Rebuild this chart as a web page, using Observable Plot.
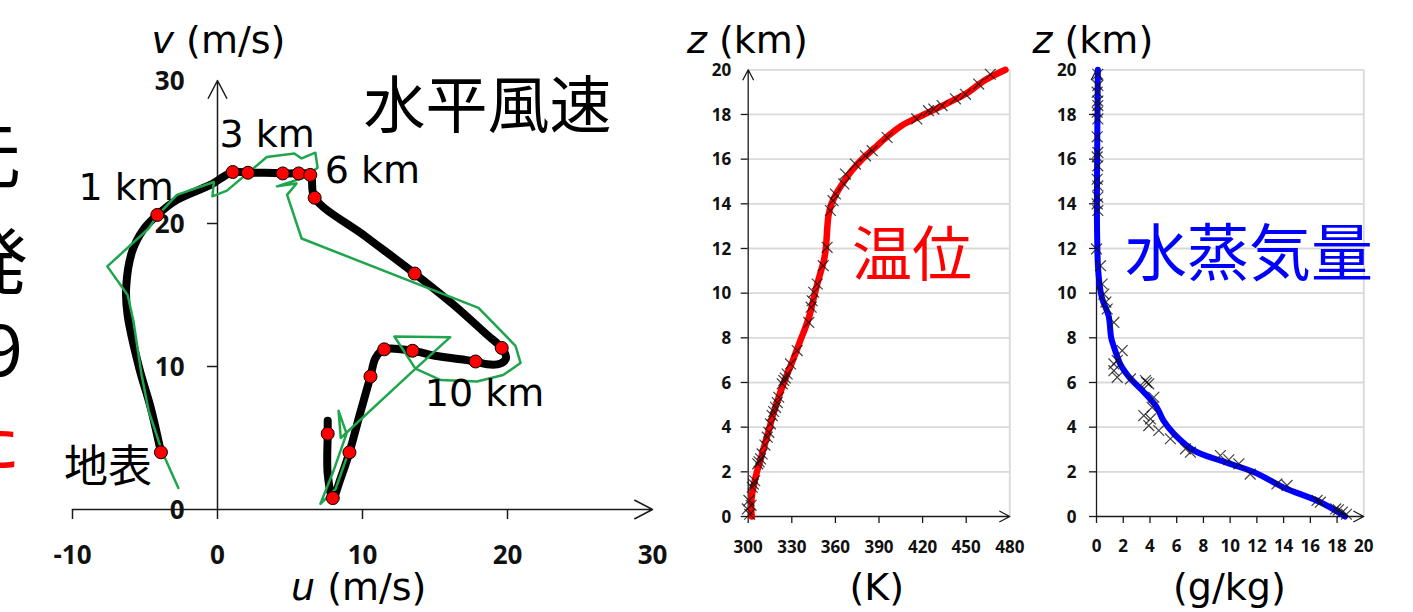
<!DOCTYPE html>
<html><head><meta charset="utf-8">
<script src="https://cdn.jsdelivr.net/npm/d3@7"></script>
<script src="https://cdn.jsdelivr.net/npm/@observablehq/plot@0.6"></script>
<style>
html,body{margin:0;padding:0;background:#fff;}
#root{position:relative;width:1413px;height:612px;overflow:hidden;background:#fff;}
.panel{position:absolute;top:0;}
.lbl{position:absolute;white-space:nowrap;line-height:1;}
</style></head><body><div id="root"></div>
<script>
// ---------- Hodograph data (u, v in m/s) ----------
const kmLevels = [0,1,2,3,4,5,6,7,8,9,10,11,12,13,14,15,16];
const dotU = [-3.9,-4.15,1.05,2.1,4.5,5.6,6.4,6.7,13.6,19.6,17.8,13.45,11.5,10.55,9.1,7.95,7.6];
const dotV = [4.0,20.6,23.6,23.55,23.5,23.5,23.4,21.8,16.5,11.3,10.35,11.1,11.2,9.3,4.0,0.8,5.3];
const smoothU = [-3.9,-4.6,-5.4,-6.2,-6.3,-5.9,-5.1,-4.15,-2.8,-0.5,1.05,2.1,3.3,4.5,5.6,6.4,6.7,10.2,13.6,16.3,18.5,19.6,19.9,19.5,18.6,17.8,15.0,13.45,11.5,10.9,10.55,9.8,9.1,8.5,7.95,7.6,7.6,7.6];
const smoothV = [4.0,7.1,9.9,13.6,15.5,18.0,19.6,20.6,21.65,22.7,23.6,23.55,23.55,23.5,23.5,23.4,21.8,19.1,16.5,14.3,12.3,11.3,10.6,10.2,10.15,10.35,10.75,11.1,11.2,10.6,9.3,6.6,4.0,2.2,0.8,2.5,5.3,6.2];
const rawU = [-2.7,-3.8,-4.75,-5.25,-5.8,-6.2,-7.6,-4.75,-4.15,-2.8,-0.25,-0.35,0.65,3.4,5.3,5.8,6.75,6.9,5.95,4.1,5.45,4.8,5.8,18.0,20.55,20.9,19.7,17.9,15.4,13.65,12.2,16.05,13.55,8.5,8.35,8.9,8.0,7.1,8.15,8.95];
const rawV = [1.5,4.0,6.9,9.5,13.2,15.0,17.0,19.65,20.55,22.0,22.9,21.9,22.3,24.65,24.9,24.55,24.95,23.9,23.2,22.6,22.8,22.0,18.95,14.1,11.45,10.25,9.4,8.95,9.05,9.85,12.1,12.05,9.75,5.0,6.9,5.3,2.7,0.4,1.45,3.75];
const uTicks = [-10,0,10,20,30];
const vTicks = [0,10,20,30];

// ---------- Potential temperature (K) vs height (km) ----------
const zTicks = [0,2,4,6,8,10,12,14,16,18,20];
const thetaTicks = [300,330,360,390,420,450,480];
const thetaLineZ = [0,0.4,0.8,1.3,2.0,2.5,3.0,3.5,4.0,4.5,5.0,5.5,6.0,6.5,7.0,7.5,8.0,8.5,9.0,9.5,10.0,10.5,11.0,11.5,12.0,12.5,13.0,13.5,14.0,14.5,15.0,15.5,16.0,16.5,17.0,17.5,18.0,18.5,19.0,19.5,20.0];
const thetaLineK = [302.5,302.0,302.3,303.5,306.0,308.3,310.4,312.6,314.8,316.8,319.3,321.8,324.6,327.6,330.8,333.7,336.6,339.6,342.2,344.1,345.9,347.9,350.1,352.2,353.4,354.0,354.5,355.3,357.3,361.0,365.9,371.5,378.4,386.9,395.6,405.5,421.0,437.0,451.5,462.0,477.0];
const thetaObsK = [299.4,300.5,301,302,302.8,303.5,304.5,306.6,307.5,308.5,309.6,311.5,313.1,314.2,315.3,316.5,317.5,318.8,320,321,323.4,324.5,325.5,326.8,329.1,333.7,341.7,343.3,344,345.1,347.5,351.6,354.3,356.6,358.4,360,365.8,366.9,373.8,380.7,385.3,395.6,416,424,427.7,433.4,442.6,449.5,458.6,466.6];
const thetaObsZ = [0.34,0.72,0.1,0.5,1.31,1.45,1.6,2.36,2.45,2.58,2.8,3.2,3.55,3.77,4.15,4.52,4.7,4.89,5.1,5.34,5.94,6.09,6.2,6.38,6.83,7.43,8.69,9.37,9.66,10.04,10.41,11.23,12.05,13.7,14.14,14.44,14.89,15.33,15.78,16.15,16.38,16.97,17.8,18.17,18.24,18.4,18.7,18.9,19.36,19.8];

// ---------- Water vapour mixing ratio (g/kg) vs height (km) ----------
const qTicks = [0,2,4,6,8,10,12,14,16,18,20];
const qLineG = [18.6,16.75,14.0,11.8,9.3,7.3,5.8,5.0,4.5,3.5,2.5,1.8,1.3,1.1,0.9,0.45,0.3,0.12,0.05,0.03,0.1];
const qLineZ = [0,0.64,1.3,1.98,2.5,2.95,3.7,4.3,4.9,5.6,6.2,6.8,7.6,8.0,9.0,9.7,10.1,11.1,12.5,14.0,20.0];
const qObsG = [18.7,18.4,18.1,17.9,16.75,16.5,14.26,13.5,11.5,10.65,9.9,9.27,7.03,6.66,5.53,4.66,3.91,4.04,3.54,4.16,4.29,3.91,3.66,3.75,2.54,1.55,1.3,1.3,1.55,1.92,1.3,0.8,0.7,0.55,0.42,0.3,0.0,0.1,0.05,0.1,0.1,0.05,0.1,0.05,0.1,0.05,0.1,0.05,0.1,0.1,0.05,0.1,0.1];
const qObsZ = [0.1,0.2,0.3,0.34,0.64,0.72,1.39,1.46,1.9,2.36,2.54,2.73,2.88,3.03,3.48,3.85,4.07,4.37,4.52,4.89,5.34,5.94,6.09,6.0,6.16,6.23,6.53,6.83,6.98,7.43,8.69,9.29,9.6,9.96,10.41,11.23,11.98,13.7,14.0,14.3,14.8,15.1,15.7,16.1,16.3,17.0,17.8,18.1,18.4,18.6,19.0,19.3,19.8];

// ---------- texts ----------
const sideLines = ["三次元", "開発", "2019", "した"];

// ---------- build tables ----------
const dots = kmLevels.map((km, i) => ({km, u: dotU[i], v: dotV[i]}));
const smoothPath = smoothU.map((u, i) => ({u, v: smoothV[i]}));
const rawPath = rawU.map((u, i) => ({u, v: rawV[i]}));
const thetaLine = thetaLineZ.map((z, i) => ({theta: thetaLineK[i], z}));
const thetaObs = thetaObsK.map((t, i) => ({theta: t, z: thetaObsZ[i]}));
const qLine = qLineZ.map((z, i) => ({q: qLineG[i], z}));
const qObs = qObsG.map((q, i) => ({q, z: qObsZ[i]}));

const LAT = '"DejaVu Sans", "Noto Sans CJK JP", sans-serif';
const CJK = '"Noto Sans CJK JP", sans-serif';
const TK = '"Open Sans", "DejaVu Sans", sans-serif';
const AX = "#1a1a1a";
const root = document.getElementById("root");

function place(svg, left) {
  const w = document.createElement("div");
  w.className = "panel"; w.style.left = left + "px";
  w.appendChild(svg); root.appendChild(w);
}
function addLabel(html, x, base, size, opts = {}) {
  const {family = LAT, anchor = "start", color = "#000", weight = 400} = opts;
  const d = document.createElement("div");
  d.className = "lbl";
  d.style.fontFamily = family; d.style.fontSize = size + "px";
  d.style.color = color; d.style.fontWeight = weight;
  d.innerHTML = html + '<span style="display:inline-block;width:0;height:0;vertical-align:baseline"></span>';
  root.appendChild(d);
  const probe = d.lastChild;
  const b = probe.offsetTop;
  const w = d.offsetWidth;
  const lx = anchor === "middle" ? x - w / 2 : anchor === "end" ? x - w : x;
  d.style.left = lx + "px";
  d.style.top = (base - b) + "px";
}
const kmText = (km, txt, o) => Plot.text(dots.filter(d => d.km === km), {x: "u", y: "v", text: () => txt, lineAnchor: "bottom", fill: "#000", ...o});

// ---------- Panel 1: hodograph ----------
const uDomain = [-10, 30], vDomain = [0, 30];
const hodo = Plot.plot({
  width: 660, height: 612,
  marginLeft: 72, marginRight: 8, marginTop: 80, marginBottom: 103,
  x: {domain: uDomain, axis: null},
  y: {domain: vDomain, axis: null},
  style: {background: "transparent", overflow: "visible"},
  marks: [
    Plot.arrow([0], {x1: uDomain[0], y1: 0, x2: uDomain[1], y2: 0, stroke: AX, strokeWidth: 1.5, headLength: 20, headAngle: 55}),
    Plot.arrow([0], {x1: 0, y1: vDomain[0], x2: 0, y2: vDomain[1], stroke: AX, strokeWidth: 1.5, headLength: 20, headAngle: 55}),
    Plot.ruleX(uTicks.filter(t => t < uDomain[1]), {x: d => d, y1: 0, y2: 0, insetBottom: -10, stroke: AX, strokeWidth: 1.5}),
    Plot.ruleY(vTicks.filter(t => t > 0 && t < vDomain[1]), {y: d => d, x1: 0, x2: 0, insetLeft: -10, stroke: AX, strokeWidth: 1.5}),
    Plot.text(uTicks, {x: d => d, y: 0, text: d => String(d), dy: 54, lineAnchor: "bottom", fontFamily: TK, fontWeight: 700, fontSize: 26, fill: "#111"}),
    Plot.text(vTicks, {x: 0, y: d => d, text: d => String(d), textAnchor: "end", dx: -33, dy: 9.5, lineAnchor: "bottom", fontFamily: TK, fontWeight: 700, fontSize: 26, fill: "#111"}),
    Plot.line(smoothPath, {x: "u", y: "v", stroke: "#000", strokeWidth: 8, curve: "catmull-rom", strokeLinecap: "round", strokeLinejoin: "round"}),
    Plot.line(rawPath, {x: "u", y: "v", stroke: "#1fa64c", strokeWidth: 2.5, strokeLinejoin: "round"}),
    Plot.dot(dots, {x: "u", y: "v", r: 6.5, fill: "#ff0000", stroke: "#000", strokeWidth: 1}),
    kmText(0, "地表", {textAnchor: "end", dx: -9, dy: 30, fontFamily: CJK, fontSize: 44}),
    kmText(1, "1 km", {textAnchor: "end", dx: 16.5, dy: -15, fontFamily: LAT, fontSize: 38}),
    kmText(3, "3 km", {textAnchor: "start", dx: -28.5, dy: -26, fontFamily: LAT, fontSize: 38}),
    kmText(6, "6 km", {textAnchor: "start", dx: 14.5, dy: 8, fontFamily: LAT, fontSize: 38}),
    kmText(10, "10 km", {textAnchor: "middle", dx: 9, dy: 45, fontFamily: LAT, fontSize: 38})
  ]
});
place(hodo, 0);

// ---------- profile panel builder ----------
function profile({width, marginLeft, marginRight, xDomain, xTicks, xKey, line, obs, color, lineWidth, yLabelDx, xLabelDy}) {
  const zDomain = [0, 20];
  return Plot.plot({
    width, height: 612,
    marginLeft, marginRight, marginTop: 69.3, marginBottom: 96,
    x: {domain: xDomain, axis: null},
    y: {domain: zDomain, axis: null},
    style: {background: "transparent", overflow: "visible"},
    marks: [
      Plot.ruleY(zTicks.filter(z => z > 0), {y: d => d, stroke: "#d9d9d9", strokeWidth: 1.8}),
      Plot.ruleX([xDomain[1]], {x: d => d, stroke: "#d9d9d9", strokeWidth: 1.8}),
      Plot.arrow([0], {x1: xDomain[0], y1: 0, x2: xDomain[1], y2: 0, stroke: AX, strokeWidth: 1.3, headLength: 13, headAngle: 55}),
      Plot.arrow([0], {x1: xDomain[0], y1: 0, x2: xDomain[0], y2: zDomain[1], stroke: AX, strokeWidth: 1.3, headLength: 13, headAngle: 55}),
      Plot.ruleX(xTicks.filter(t => t < xDomain[1]), {x: d => d, y1: 0, y2: 0, insetBottom: -7, stroke: AX, strokeWidth: 1.3}),
      Plot.ruleY(zTicks.filter(t => t < zDomain[1]), {y: d => d, x1: xDomain[0], x2: xDomain[0], insetLeft: -7, stroke: AX, strokeWidth: 1.3}),
      Plot.text(xTicks, {x: d => d, y: 0, text: d => String(d), dy: xLabelDy, lineAnchor: "bottom", fontFamily: TK, fontWeight: 700, fontSize: 17, fill: "#111"}),
      Plot.text(zTicks, {x: xDomain[0], y: d => d, text: d => String(d), textAnchor: "end", dx: yLabelDx, dy: 6.3, lineAnchor: "bottom", fontFamily: TK, fontWeight: 700, fontSize: 17, fill: "#111"}),
      Plot.line(line, {x: xKey, y: "z", stroke: color, strokeWidth: lineWidth, curve: "catmull-rom", strokeLinecap: "round", strokeLinejoin: "round"}),
      Plot.dot(obs, {x: xKey, y: "z", symbol: "times", r: 5, stroke: "#111", strokeWidth: 1.2, strokeOpacity: 0.8})
    ]
  });
}

place(profile({width: 380, marginLeft: 87.7, marginRight: 30.7, xDomain: [300, 480], xTicks: thetaTicks, xKey: "theta",
  line: thetaLine, obs: thetaObs, color: "#ff0000", lineWidth: 6.5, yLabelDx: -17, xLabelDy: 36}), 660);
place(profile({width: 373, marginLeft: 56, marginRight: 49.7, xDomain: [0, 20], xTicks: qTicks, xKey: "q",
  line: qLine, obs: qObs, color: "#0000ff", lineWidth: 6, yLabelDx: -20, xLabelDy: 35}), 1040);

// ---------- titles / annotations ----------
addLabel('<i>v</i> (m/s)', 218.5, 53.3, 38, {anchor: "middle"});
addLabel('<i>u</i> (m/s)', 358.5, 600, 38, {anchor: "middle"});
addLabel('<i>z</i> (km)', 747.5, 53.3, 38, {anchor: "middle"});
addLabel('<i>z</i> (km)', 1093, 53.3, 38, {anchor: "middle"});
addLabel('(K)', 877, 600, 38, {anchor: "middle"});
addLabel('(g/kg)', 1229.5, 600, 38, {anchor: "middle"});
addLabel('水平風速', 363.5, 127.5, 62, {family: CJK});
addLabel('温位', 852, 276, 60, {family: CJK, color: "#ff0000"});
addLabel('水蒸気量', 1125, 276, 62, {family: CJK, color: "#0000ff"});
addLabel(sideLines[0], 21, 182, 72, {family: CJK, anchor: "end"});
addLabel(sideLines[1], 28, 288, 72, {family: CJK, anchor: "end"});
addLabel(sideLines[2], 23, 376, 72, {family: CJK, anchor: "end"});
addLabel(sideLines[3], 21, 466, 72, {family: CJK, anchor: "end", color: "#ff0000"});
</script></body></html>
